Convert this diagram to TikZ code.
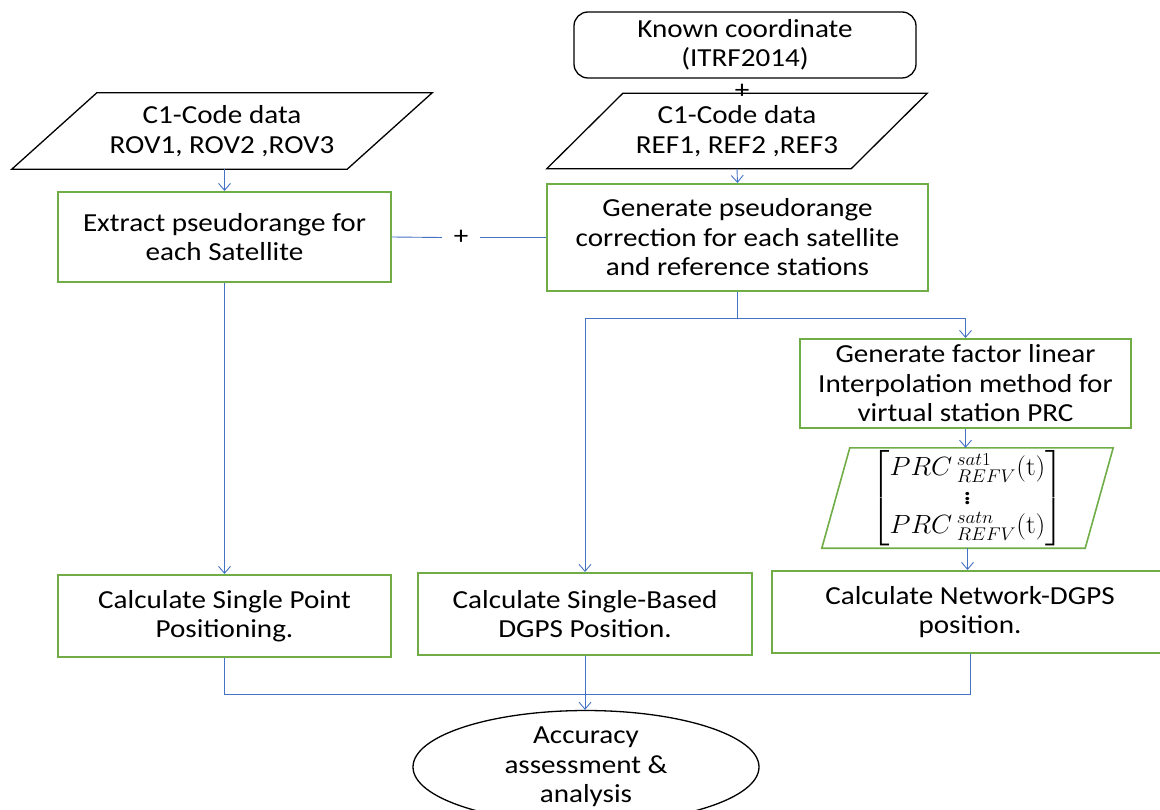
\documentclass[tikz,border=0pt]{standalone}
\usepackage[no-math]{fontspec}
\usepackage{amsmath}
\setmainfont{Carlito}[FakeStretch=1.12]
\usetikzlibrary{shapes.geometric,arrows.meta,calc}
\definecolor{boxgreen}{HTML}{70AD47}
\definecolor{linkblue}{HTML}{4472C4}

\begin{document}
\begin{tikzpicture}[x=1pt,y=-1pt,
  font=\fontsize{26}{29.5}\selectfont,
  greenbox/.style={draw=boxgreen, line width=2pt, align=center, inner sep=0pt},
  plainbox/.style={align=center, inner sep=0pt},
  link/.style={draw=linkblue, line width=0.9pt},
  arrowlink/.style={link, -{Straight Barb[length=7pt,width=12pt,line width=0.9pt]}},
  outline/.style={draw=black, line width=1.3pt, line join=miter},
]
\clip (0,0) rectangle (1160,810);

% reference coordinates
\node[outline, rounded corners=14pt, minimum width=342pt, minimum height=66pt,
      align=center, inner sep=0pt] (known) at (745,45) {Known coordinate\\(ITRF2014)};

% input data (slanted boxes)
\node[plainbox, minimum width=420pt, minimum height=76pt] (rov) at (222,131)
     {C1-Code data\\ROV1, ROV2 ,ROV3};
\draw[outline] ($(rov.north west)+(85,0)$) -- (rov.north east)
     -- ($(rov.south east)-(85,0)$) -- (rov.south west) -- cycle;

\node[plainbox, minimum width=380pt, minimum height=75pt] (ref) at (737,131)
     {C1-Code data\\REF1, REF2 ,REF3};
\draw[outline] ($(ref.north west)+(76,0)$) -- (ref.north east)
     -- ($(ref.south east)-(76,0)$) -- (ref.south west) -- cycle;
\node[inner sep=0pt] (plusref) at (742,91) {+};

% processing steps
\node[greenbox, minimum width=333pt, minimum height=90pt] (extract) at (224.5,237)
     {Extract pseudorange for\\each Satellite};
\node[greenbox, minimum width=381pt, minimum height=107pt] (gen) at (737.5,237.5)
     {Generate pseudorange\\correction for each satellite\\and reference stations};
\node[inner sep=0pt, minimum width=38pt] (plusmid) at (461,237.5) {+};

\node[greenbox, minimum width=331pt, minimum height=89pt] (gf) at (965.5,383.5)
     {Generate factor linear\\Interpolation method for\\virtual station PRC};

\node[plainbox, minimum width=291pt, minimum height=100pt] (mat) at (967.5,498)
     {\scalebox{1.1}[1.06]{$\begin{bmatrix} PRC\,{}^{sat1}_{REFV}(\mathrm{t}) \\[-2pt] \vdots \\[-2pt]
        PRC\,{}^{satn}_{REFV}(\mathrm{t}) \end{bmatrix}$}};
\draw[draw=boxgreen, line width=1.6pt] ($(mat.north west)+(28,0)$) -- (mat.north east)
     -- ($(mat.south east)-(28,0)$) -- (mat.south west) -- cycle;

\node[greenbox, minimum width=333pt, minimum height=82pt] (sp) at (224.5,616)
     {Calculate Single Point\\Positioning.};
\node[greenbox, minimum width=334pt, minimum height=82pt] (sb) at (585,614)
     {Calculate Single-Based\\DGPS Position.};
\node[greenbox, minimum width=396pt, minimum height=82pt] (nd) at (970,612)
     {Calculate Network-DGPS\\position.};

\node[ellipse, outline, minimum width=346pt, minimum height=106pt, inner sep=0pt,
      align=center] (acc) at (586,767) {Accuracy\\assessment \&\\analysis};

% connectors
\draw[arrowlink] (extract.north |- rov.south) -- (extract.north);
\draw[arrowlink] (ref.south) -- (gen.north);
\draw[link] (extract.east) -- (plusmid.west);
\draw[link] (plusmid.east) -- (gen.west);

\coordinate (split) at ($(gen.south)+(0,26)$);
\draw[link] (gen.south) -- (split);
\draw[arrowlink] (split) -| (sb.north);
\draw[arrowlink] (split) -| (gf.north);
\draw[arrowlink] (gf.south) -- (gf.south |- mat.north);
\draw[arrowlink] (mat.south) -- (mat.south |- nd.north);
\draw[arrowlink] (extract.south) -- (sp.north);

\coordinate (join) at ($(sp.south)+(0,36)$);
\draw[link] (sp.south) -- (join) -- (join -| nd.south) -- (nd.south);
\draw[arrowlink] (sb.south) -- (sb.south |- acc.north);
\end{tikzpicture}
\end{document}
